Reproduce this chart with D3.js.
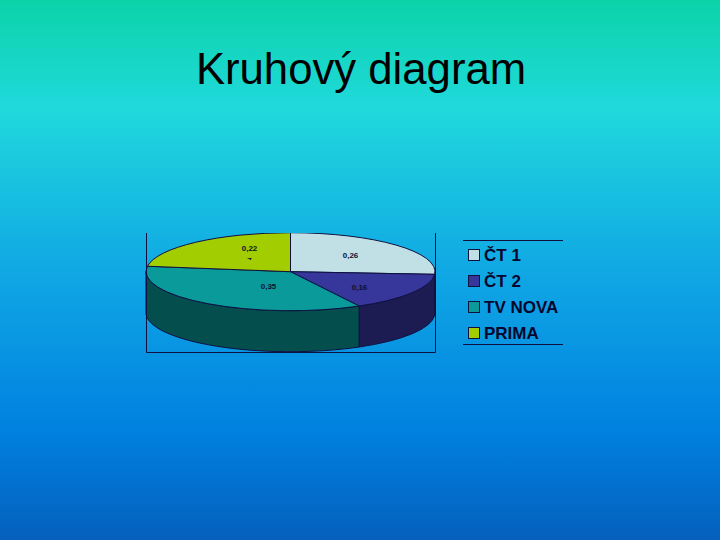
<!DOCTYPE html>
<html>
<head>
<meta charset="utf-8">
<script src="https://cdn.jsdelivr.net/npm/d3@7"></script>
<style>
  html, body { margin: 0; padding: 0; }
  svg { display: block; font-family: "Liberation Sans", Arial, sans-serif; }
</style>
</head>
<body>
<div id="chart"></div>
<script>
const categories = ["ČT 1", "ČT 2", "TV NOVA", "PRIMA"];
const shares = [0.26, 0.16, 0.35, 0.227];
const valueLabels = [["0,26"], ["0,16"], ["0,35"], ["0,22", "7"]];
const topColors = ["#c0e0e6", "#37369a", "#0a9a9a", "#a2cd00"];
const sideColors = ["#7a9aa0", "#1c1c52", "#044e4e", "#5a7000"];
const gradientStops = [
  [0, "#0bd3a8"], [0.2, "#20d9dc"], [0.5, "#10a8e4"], [0.8, "#0080e0"], [1, "#0560bc"]
];

const width = 720, height = 540;
const svg = d3.select("#chart").append("svg").attr("width", width).attr("height", height);

// ---- Background ----
const defs = svg.append("defs");
const grad = defs.append("linearGradient")
  .attr("id", "bg").attr("x1", 0).attr("y1", 0).attr("x2", 0).attr("y2", 1);
grad.selectAll("stop").data(gradientStops).join("stop")
  .attr("offset", d => d[0]).attr("stop-color", d => d[1]);
svg.append("rect").attr("width", width).attr("height", height).attr("fill", "url(#bg)");

svg.append("text")
  .attr("x", 361).attr("y", 84)
  .attr("text-anchor", "middle")
  .style("font-size", "43.7px").style("fill", "#000")
  .text("Kruhový diagram");

// ---- Pie geometry ----
const cx = 290.5, cy = 271.7, rx = 144.5, ry = 39, depth = 41;
const arcs = d3.pie().sort(null).value(d => d)(shares);
const px = a => cx + rx * Math.sin(a);
const py = a => cy - ry * Math.cos(a);

defs.append("clipPath").attr("id", "plot")
  .append("rect").attr("x", 140).attr("y", 233).attr("width", 302).attr("height", 125);
const plot = svg.append("g").attr("clip-path", "url(#plot)");

// ---- Side wall, only the front half of the ellipse shows ----
arcs.forEach((d, i) => {
  const a0 = Math.max(d.startAngle, Math.PI / 2);
  const a1 = Math.min(d.endAngle, Math.PI * 3 / 2);
  if (a1 <= a0) return;
  plot.append("path")
    .attr("d", `M${px(a0)},${py(a0)}A${rx},${ry} 0 0 1 ${px(a1)},${py(a1)}` +
      `L${px(a1)},${py(a1) + depth}A${rx},${ry} 0 0 0 ${px(a0)},${py(a0) + depth}Z`)
    .attr("fill", sideColors[i]).attr("stroke", "#101040").attr("stroke-width", 1);
});

// ---- Top slices ----
arcs.forEach((d, i) => {
  const large = d.endAngle - d.startAngle > Math.PI ? 1 : 0;
  plot.append("path")
    .attr("d", `M${cx},${cy}L${px(d.startAngle)},${py(d.startAngle)}` +
      `A${rx},${ry} 0 ${large} 1 ${px(d.endAngle)},${py(d.endAngle)}Z`)
    .attr("fill", topColors[i]).attr("stroke", "#101040").attr("stroke-width", 1);
});

// ---- Frame: left, bottom, right, top side left open ----
svg.append("path")
  .attr("d", "M146.5,233V352.5H435.5V233")
  .attr("fill", "none").attr("stroke", "#101040").attr("stroke-width", 1);

// ---- Value labels, the wrapped second line of PRIMA is cut off in the original ----
defs.append("clipPath").attr("id", "labelClip")
  .append("rect").attr("x", 140).attr("y", 233).attr("width", 302).attr("height", 27);
const labelOffset = [[60, -14], [69, 18], [-22, 17], [-41, -21]];
valueLabels.forEach((lines, i) => {
  lines.forEach((t, j) => {
    svg.append("text")
      .attr("x", cx + labelOffset[i][0]).attr("y", cy + labelOffset[i][1] + j * 12.5)
      .attr("text-anchor", "middle")
      .attr("clip-path", j > 0 ? "url(#labelClip)" : null)
      .style("font-size", "8px").style("font-weight", "bold").style("fill", "#101030")
      .text(t);
  });
});

// ---- Legend ----
const legendY = d3.scalePoint().domain(categories).range([255, 333]);
svg.selectAll(".rule").data([240.5, 344.5]).join("line")
  .attr("x1", 463).attr("x2", 563).attr("y1", d => d).attr("y2", d => d)
  .attr("stroke", "#101040");
const item = svg.selectAll(".item").data(categories).join("g")
  .attr("transform", d => `translate(0,${legendY(d)})`);
item.append("rect")
  .attr("x", 468.5).attr("y", -5.5).attr("width", 11).attr("height", 11)
  .attr("fill", (d, i) => topColors[i]).attr("stroke", "#101040");
item.append("text")
  .attr("x", 484).attr("y", 6)
  .style("font-size", "17px").style("font-weight", "bold").style("fill", "#06062e")
  .text(d => d);
</script>
</body>
</html>
